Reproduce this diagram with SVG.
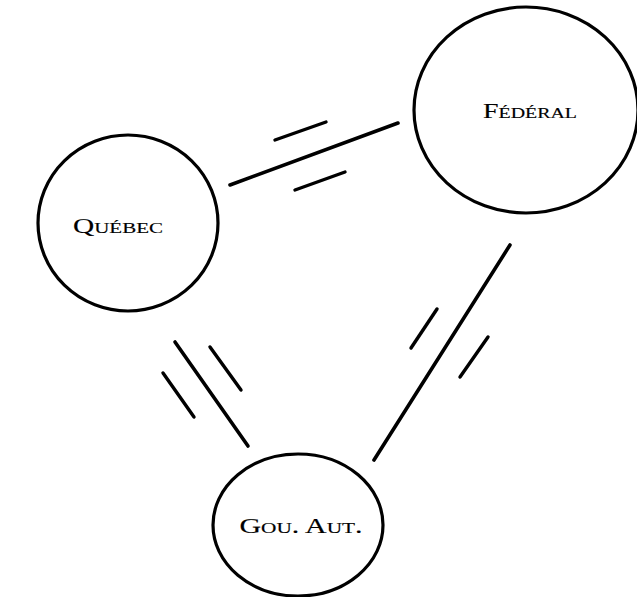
<svg xmlns="http://www.w3.org/2000/svg" width="637" height="597" viewBox="0 0 637 597">
  <style>
    .node { fill: none; stroke: #000; stroke-width: 3.2; }
    .label { font-family: "Liberation Serif", "DejaVu Serif", serif; font-variant: small-caps; font-size: 21px; fill: #000; stroke: #000; stroke-width: 0.15; text-anchor: middle; }
    .link { stroke: #000; stroke-width: 3.6; stroke-linecap: round; fill: none; }
    .tick { stroke: #000; stroke-width: 3.4; stroke-linecap: round; fill: none; }
  </style>
  <rect width="637" height="597" fill="#fff"/>

  <g id="quebec">
    <ellipse class="node" cx="128" cy="223" rx="90" ry="88"/>
    <text class="label" x="118" y="233" textLength="90" lengthAdjust="spacingAndGlyphs">Québec</text>
  </g>

  <g id="federal">
    <ellipse class="node" cx="526" cy="110" rx="112" ry="103"/>
    <text class="label" x="530" y="118" textLength="94" lengthAdjust="spacingAndGlyphs">Fédéral</text>
  </g>

  <g id="gou-aut">
    <ellipse class="node" cx="298" cy="525" rx="85" ry="71"/>
    <text class="label" x="301" y="533" textLength="123" lengthAdjust="spacingAndGlyphs">Gou. Aut.</text>
  </g>

  <g id="connectors">
    <!-- Québec – Fédéral -->
    <line class="link" x1="230" y1="185" x2="398" y2="123"/>
    <line class="tick" x1="275" y1="140" x2="326" y2="122"/>
    <line class="tick" x1="295" y1="190" x2="345" y2="172"/>
    <!-- Québec – Gou. Aut. -->
    <line class="link" x1="175" y1="342" x2="248" y2="446"/>
    <line class="tick" x1="163" y1="373" x2="194" y2="417"/>
    <line class="tick" x1="210" y1="347" x2="241" y2="390"/>
    <!-- Fédéral – Gou. Aut. -->
    <line class="link" x1="510" y1="245" x2="374" y2="460"/>
    <line class="tick" x1="437" y1="309" x2="411" y2="348"/>
    <line class="tick" x1="488" y1="337" x2="460" y2="377"/>
  </g>
</svg>
